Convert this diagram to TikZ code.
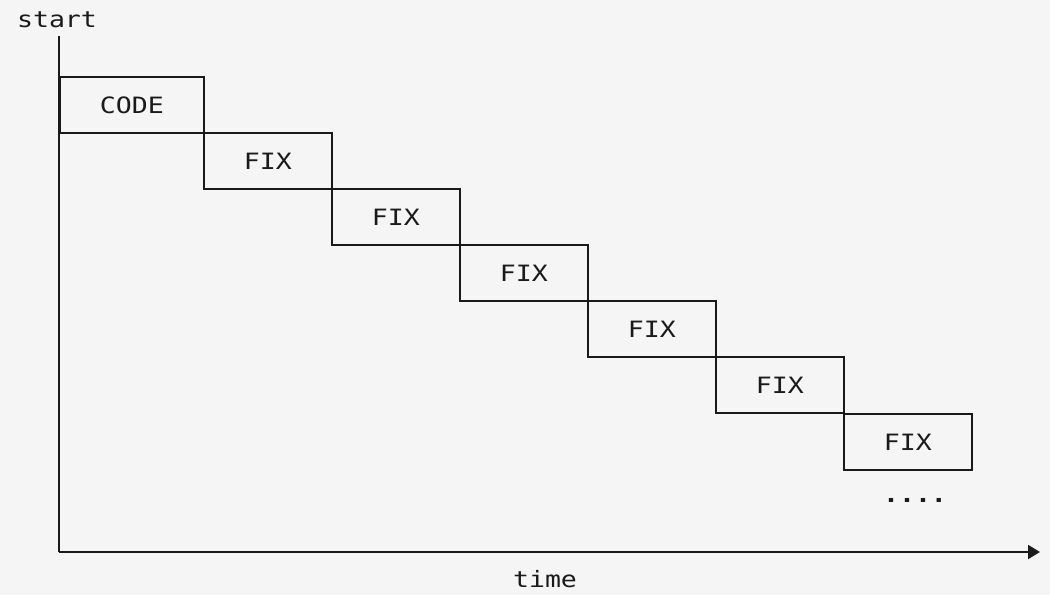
\documentclass[tikz,border=0pt]{standalone}
\usepackage{fontspec}
\newfontfamily\pixfont[FakeStretch=1.18]{DejaVu Sans Mono}
\usetikzlibrary{arrows.meta}
\definecolor{paper}{HTML}{F5F5F5}
\definecolor{ink}{HTML}{1A1A1A}
\tikzset{
  phase/.style={draw=ink, line width=1.9pt, minimum height=56pt, inner sep=0pt,
    font=\pixfont\fontsize{22.5}{24}\selectfont, text=ink, anchor=north west},
  axis/.style={draw=ink, line width=1.9pt},
  lbl/.style={font=\pixfont\fontsize{22.5}{24}\selectfont, text=ink, inner sep=0pt},
}
\begin{document}
\begin{tikzpicture}[x=1pt, y=-1pt]
  \fill[paper] (0,0) rectangle (1050,595);
  \useasboundingbox (0,0) rectangle (1050,595);

  % axes
  \coordinate (origin) at (59,552);
  \coordinate (top) at (59,36);
  \coordinate (tip) at (1040,552);
  \draw[axis] (top) -- (origin);
  \draw[axis, -{Triangle[length=12pt, width=14pt]}] (origin) -- (tip);
  \node[lbl] (start) at (57,20) {start};
  \node[lbl] (time) at (545,579) {time};

  % waterfall of phases
  \node[phase, minimum width=144pt] (code) at (59,76) {CODE};
  \node[phase, minimum width=128pt] (fix1) at (203,132) {FIX};
  \node[phase, minimum width=128pt] (fix2) at (331,188) {FIX};
  \node[phase, minimum width=128pt] (fix3) at (459,244) {FIX};
  \node[phase, minimum width=128pt] (fix4) at (587,300) {FIX};
  \node[phase, minimum width=128pt] (fix5) at (715,356) {FIX};
  \node[phase, minimum width=128pt] (fix6) at (843,413) {FIX};
  \node[lbl, font=\pixfont\bfseries\fontsize{22.5}{24}\selectfont] (more) at (915,500) {....};
\end{tikzpicture}
\end{document}
